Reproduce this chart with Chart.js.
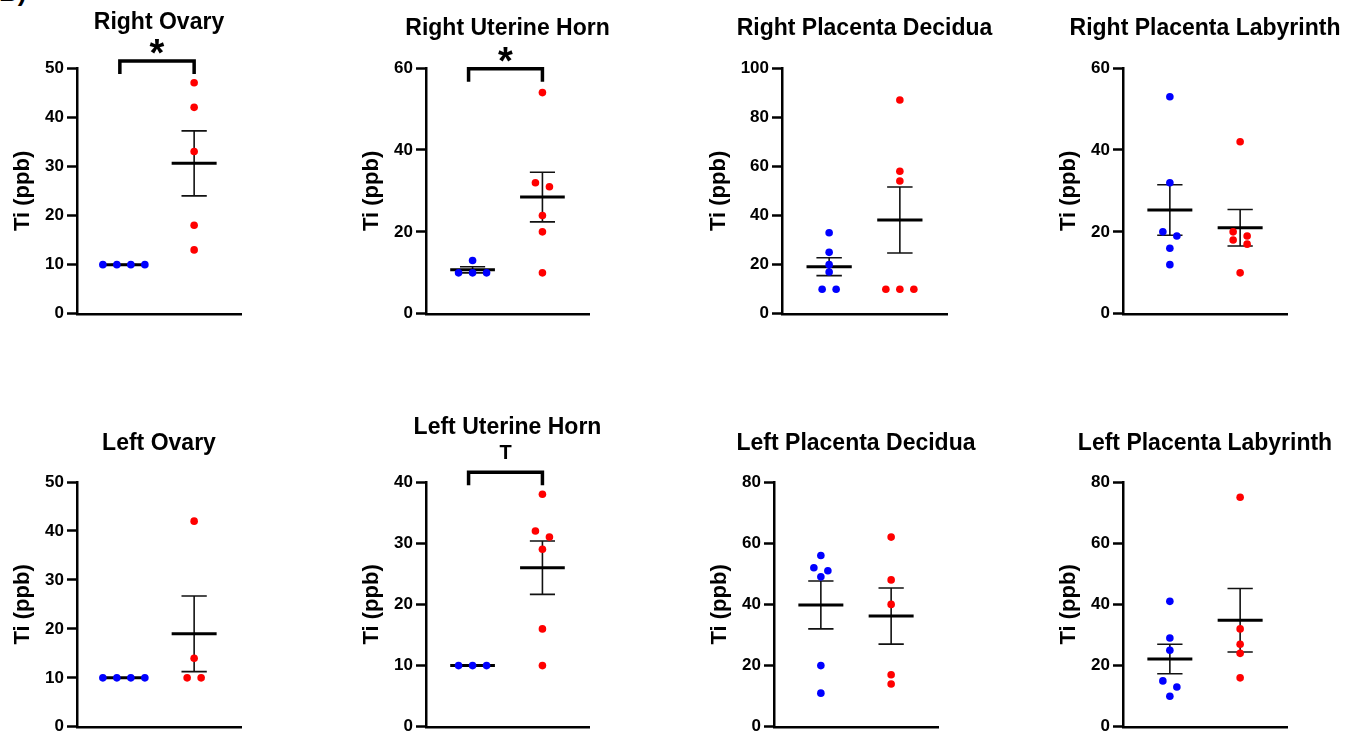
<!DOCTYPE html>
<html>
<head>
<meta charset="utf-8">
<script src="https://cdn.jsdelivr.net/npm/chart.js@4.4.1/dist/chart.umd.min.js"></script>
<style>
    html, body { margin: 0; padding: 0; background: #fff; width: 1345px; height: 734px; overflow: hidden; }
    canvas { position: absolute; }
    #tag { position: absolute; left: -1px; top: -23px; font: bold 26px 'Liberation Sans', Arial, sans-serif; }
</style>
</head>
<body>
<div id="tag">B)</div>
<script>
// Panel titles, right side on top row, left side on bottom row
const titles = ['Right Ovary', 'Right Uterine Horn', 'Right Placenta Decidua', 'Right Placenta Labyrinth',
                'Left Ovary', 'Left Uterine Horn', 'Left Placenta Decidua', 'Left Placenta Labyrinth'];
const groups = [1, 2];
const groupColors = ['#0000ff', '#ff0000'];

// Ti (ppb), one value per animal
const blueValues = [
    [10, 10, 10, 10],
    [13, 10, 10, 10],
    [33, 25, 20, 17, 10, 10],
    [53, 32, 20, 19, 16, 12],
    [10, 10, 10, 10],
    [10, 10, 10],
    [56, 52, 51, 49, 20, 11],
    [41, 29, 25, 15, 13, 10]
];
const redValues = [
    [47, 42, 33, 18, 13],
    [54, 32, 31, 24, 20, 10],
    [87, 58, 54, 10, 10, 10],
    [42, 20, 19, 18, 17, 10],
    [42, 14, 10, 10],
    [38, 32, 31, 29, 16, 10],
    [62, 48, 40, 17, 14],
    [75, 32, 27, 24, 16]
];

// y axis ticks
const yMaxes = [50, 60, 100, 60, 50, 40, 80, 80];
const yStepSizes = [10, 20, 20, 20, 10, 10, 20, 20];

// significance brackets
const sigLabels = ['*', '*', null, null, null, 'T', null, null];
const sigLevels = [51.4, 59.8, null, null, null, 41.6, null, null];

// where each panel sits on the page
const panelBoxes = [
    { axisX: 77,   axisEnd: 241,  top: 0,   titleY: 22,  plotTop: 68,  plotBottom: 315 },
    { axisX: 426,  axisEnd: 589,  top: 0,   titleY: 28,  plotTop: 68,  plotBottom: 315 },
    { axisX: 782,  axisEnd: 947,  top: 0,   titleY: 28,  plotTop: 68,  plotBottom: 315 },
    { axisX: 1123, axisEnd: 1287, top: 0,   titleY: 28,  plotTop: 68,  plotBottom: 315 },
    { axisX: 77,   axisEnd: 241,  top: 400, titleY: 443, plotTop: 482, plotBottom: 728 },
    { axisX: 426,  axisEnd: 589,  top: 400, titleY: 427, plotTop: 482, plotBottom: 728 },
    { axisX: 774,  axisEnd: 938,  top: 400, titleY: 443, plotTop: 482, plotBottom: 728 },
    { axisX: 1123, axisEnd: 1287, top: 400, titleY: 443, plotTop: 482, plotBottom: 728 }
];

const FONT = "'Liberation Sans', Arial, Helvetica, sans-serif";
Chart.defaults.font.family = FONT;
Chart.defaults.color = '#000';

const SIDE = 80;          // room for the y axis on the left (mirrored on the right)
const TICK_LEN = 10;
const TICK_PAD = 3;
const TICK_SIZE = 17;
const TITLE_SIZE = 23;
const YTITLE_SIZE = 22;
const MEAN_HALF = 0.32;   // in x units
const CAP_HALF = 0.18;
const DOT_GAP = 14;       // px between dots that share a row
const ROW_TOL = 7;        // px: dots closer than this share a row

function mean(v) { return v.reduce((a, b) => a + b, 0) / v.length; }
function sem(v) {
    const m = mean(v);
    const ss = v.reduce((a, b) => a + (b - m) * (b - m), 0);
    return Math.sqrt(ss / (v.length - 1)) / Math.sqrt(v.length);
}

// spread dots that would overlap into centered rows
const swarmPlugin = {
    id: 'swarm',
    afterDatasetsUpdate(chart) {
        chart.data.datasets.forEach((ds, i) => {
            if (!ds.swarm) return;
            const pts = chart.getDatasetMeta(i).data.slice().sort((a, b) => a.y - b.y);
            let row = [];
            const flush = () => {
                row.forEach((p, k) => { p.x += (k - (row.length - 1) / 2) * DOT_GAP; });
                row = [];
            };
            pts.forEach(p => {
                if (row.length && p.y - row[0].y > ROW_TOL) flush();
                row.push(p);
            });
            flush();
        });
    }
};

const bracketPlugin = {
    id: 'bracket',
    afterDraw(chart, args, opts) {
        if (!opts.label) return;
        const { ctx, scales: { x, y } } = chart;
        const x1 = x.getPixelForValue(groups[0]) - 4;
        const x2 = x.getPixelForValue(groups[1]);
        const yb = y.getPixelForValue(opts.level);
        ctx.save();
        ctx.strokeStyle = '#000';
        ctx.lineWidth = 3.5;
        ctx.lineJoin = 'miter';
        ctx.beginPath();
        ctx.moveTo(x1, yb + 13);
        ctx.lineTo(x1, yb);
        ctx.lineTo(x2, yb);
        ctx.lineTo(x2, yb + 13);
        ctx.stroke();
        ctx.fillStyle = '#000';
        ctx.textAlign = 'center';
        ctx.textBaseline = 'alphabetic';
        if (opts.label === '*') {
            ctx.font = 'bold 38px ' + FONT;
            ctx.fillText(opts.label, (x1 + x2) / 2, yb - 17 + 38 * 0.585);
        } else {
            ctx.font = 'bold 20px ' + FONT;
            ctx.fillText(opts.label, (x1 + x2) / 2, yb - 20 + 20 * 0.358);
        }
        ctx.restore();
    }
};

const measure = document.createElement('canvas').getContext('2d');
measure.font = 'bold ' + TICK_SIZE + 'px ' + FONT;

panelBoxes.forEach((box, i) => {
    const canvas = document.createElement('canvas');
    const plotW = box.axisEnd - box.axisX;
    canvas.width = plotW + 2 * SIDE;
    canvas.height = box.plotBottom - box.top + 12;
    canvas.style.left = (box.axisX - SIDE) + 'px';
    canvas.style.top = box.top + 'px';
    document.body.appendChild(canvas);

    const titleLH = TITLE_SIZE * 1.2;
    const titlePadTop = (box.titleY - box.top) - titleLH / 2 + 1;
    const titlePadBottom = (box.plotTop - box.top) - titlePadTop - titleLH;

    const labelW = measure.measureText(String(yMaxes[i])).width;
    const yTitleLH = YTITLE_SIZE * 1.2;
    const yTitlePad = Math.max(0, SIDE - (TICK_LEN + TICK_PAD + labelW + 22) - yTitleLH / 2);

    const sets = [blueValues[i], redValues[i]];
    const datasets = [];
    sets.forEach((vals, g) => {
        datasets.push({
            data: vals.map(v => ({ x: groups[g], y: v })),
            backgroundColor: groupColors[g],
            borderWidth: 0,
            pointRadius: 3.8,
            swarm: true
        });
    });
    sets.forEach((vals, g) => {
        const m = mean(vals), s = sem(vals), c = groups[g];
        datasets.push({
            data: [{ x: c - MEAN_HALF, y: m }, { x: c + MEAN_HALF, y: m }],
            showLine: true,
            borderColor: '#000',
            borderWidth: 3,
            pointRadius: 0
        });
        datasets.push({
            data: [
                { x: c, y: m - s }, { x: c, y: m + s }, { x: c, y: null },
                { x: c - CAP_HALF, y: m + s }, { x: c + CAP_HALF, y: m + s }, { x: c, y: null },
                { x: c - CAP_HALF, y: m - s }, { x: c + CAP_HALF, y: m - s }
            ],
            showLine: true,
            spanGaps: false,
            borderColor: '#111',
            borderWidth: 1.6,
            pointRadius: 0
        });
    });

    new Chart(canvas.getContext('2d'), {
        type: 'scatter',
        data: { datasets: datasets },
        options: {
            responsive: false,
            animation: false,
            events: [],
            layout: { padding: { left: 0, right: 0, top: 0, bottom: 12 } },
            plugins: {
                legend: { display: false },
                tooltip: { enabled: false },
                title: {
                    display: true,
                    text: titles[i],
                    color: '#000',
                    font: { size: TITLE_SIZE, weight: 'bold' },
                    padding: { top: titlePadTop, bottom: titlePadBottom }
                },
                bracket: { label: sigLabels[i], level: sigLevels[i] }
            },
            scales: {
                x: {
                    type: 'linear',
                    min: 1 / 3,
                    max: 8 / 3,
                    ticks: { display: false },
                    grid: { display: false, drawTicks: false },
                    border: { color: '#000', width: 2.5 }
                },
                y: {
                    min: 0,
                    max: yMaxes[i],
                    ticks: {
                        stepSize: yStepSizes[i],
                        color: '#000',
                        padding: TICK_PAD,
                        font: { size: TICK_SIZE, weight: 'bold' }
                    },
                    grid: {
                        drawOnChartArea: false,
                        tickLength: TICK_LEN,
                        tickColor: '#000',
                        tickWidth: 2.5
                    },
                    border: { color: '#000', width: 2.5 },
                    title: {
                        display: true,
                        text: 'Ti (ppb)',
                        color: '#000',
                        font: { size: YTITLE_SIZE, weight: 'bold' },
                        padding: { top: yTitlePad, bottom: 0 }
                    },
                    afterFit: scale => { scale.width = SIDE; }
                },
                // empty right-hand axis, keeps the plot centred under its title
                spacer: {
                    type: 'linear',
                    position: 'right',
                    ticks: { display: false },
                    grid: { display: false, drawTicks: false },
                    border: { display: false },
                    afterFit: scale => { scale.width = SIDE; }
                }
            }
        },
        plugins: [swarmPlugin, bracketPlugin]
    });
});
</script>
</body>
</html>
